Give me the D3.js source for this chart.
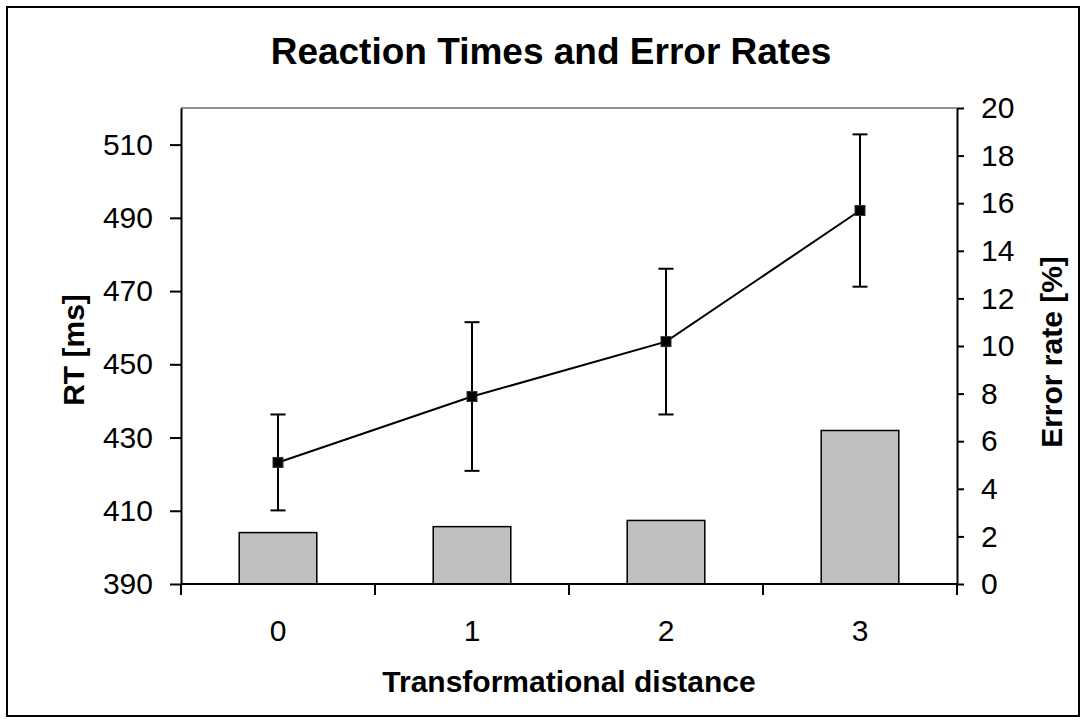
<!DOCTYPE html>
<html>
<head>
<meta charset="utf-8">
<script src="https://cdn.jsdelivr.net/npm/d3@7/dist/d3.min.js"></script>
<style>
  html, body { margin: 0; padding: 0; background: #ffffff; }
  svg { display: block; }
  text { font-family: "Liberation Sans", Arial, sans-serif; fill: #000; }
</style>
</head>
<body>
<svg id="chart" width="1087" height="723"></svg>
<script>
// Transformational distance conditions
const categories = ["0", "1", "2", "3"];
// Mean reaction time (ms) with error bar half-widths
const rtMean = [423.2, 441.2, 456.2, 492.0];
const rtErr = [13.1, 20.3, 19.9, 20.8];
// Error rate (%)
const errorRate = [2.16, 2.41, 2.67, 6.45];
// Axis tick values
const rtTicks = [390, 410, 430, 450, 470, 490, 510];
const errTicks = [0, 2, 4, 6, 8, 10, 12, 14, 16, 18, 20];

const svg = d3.select("#chart");
const W = 1087, H = 723;
const plot = { left: 181, right: 957, top: 108, bottom: 584 };

// outer frame
svg.append("rect")
  .attr("x", 7).attr("y", 7)
  .attr("width", W - 15).attr("height", H - 14)
  .attr("fill", "#fff").attr("stroke", "#000").attr("stroke-width", 2);

const x = d3.scaleBand().domain(categories).range([plot.left, plot.right]);
const yRT = d3.scaleLinear().domain([390, 520]).range([plot.bottom, plot.top]);
const yErr = d3.scaleLinear().domain([0, 20]).range([plot.bottom, plot.top]);

// top border of plot area
svg.append("line")
  .attr("x1", plot.left).attr("x2", plot.right)
  .attr("y1", plot.top).attr("y2", plot.top)
  .attr("stroke", "#909090").attr("stroke-width", 2);

// error-rate bars
const barW = x.bandwidth() * 0.4;
svg.append("g").selectAll("rect")
  .data(errorRate)
  .join("rect")
  .attr("x", (d, i) => x(categories[i]) + x.bandwidth() / 2 - barW / 2)
  .attr("y", d => yErr(d))
  .attr("width", barW)
  .attr("height", d => yErr(0) - yErr(d))
  .attr("fill", "#c0c0c0")
  .attr("stroke", "#000")
  .attr("stroke-width", 1.5);

// left axis (RT)
const gL = svg.append("g")
  .attr("transform", `translate(${plot.left},0)`)
  .call(d3.axisLeft(yRT).tickValues(rtTicks).tickSize(11).tickSizeOuter(0).tickPadding(17));
gL.select(".domain").attr("stroke-width", 2);
gL.selectAll(".tick line").attr("stroke-width", 2);
gL.selectAll("text").style("font-size", "30px").style("font-family", "'Liberation Sans', Arial, sans-serif");

// right axis (error rate)
const gR = svg.append("g")
  .attr("transform", `translate(${plot.right},0)`)
  .call(d3.axisRight(yErr).tickValues(errTicks).tickSize(7).tickSizeOuter(0).tickPadding(17));
gR.select(".domain").attr("stroke-width", 2);
gR.selectAll(".tick line").attr("stroke-width", 2);
gR.selectAll("text").style("font-size", "30px").style("font-family", "'Liberation Sans', Arial, sans-serif");

// bottom axis: category labels and boundary ticks
const gB = svg.append("g")
  .attr("transform", `translate(0,${plot.bottom})`)
  .call(d3.axisBottom(x).tickSize(0).tickPadding(36));
gB.select(".domain").remove();
gB.selectAll("text").style("font-size", "30px").style("font-family", "'Liberation Sans', Arial, sans-serif");
svg.append("line")
  .attr("x1", plot.left).attr("x2", plot.right)
  .attr("y1", plot.bottom).attr("y2", plot.bottom)
  .attr("stroke", "#000").attr("stroke-width", 2);
const bounds = categories.map(c => x(c)).concat([x.range()[1]]);
svg.append("g").selectAll("line")
  .data(bounds)
  .join("line")
  .attr("x1", d => d).attr("x2", d => d)
  .attr("y1", plot.bottom).attr("y2", plot.bottom + 11)
  .attr("stroke", "#000").attr("stroke-width", 2);

// RT line, error bars and markers
const cx = i => x(categories[i]) + x.bandwidth() / 2;
const line = d3.line().x((d, i) => cx(i)).y(d => yRT(d));
svg.append("path")
  .datum(rtMean)
  .attr("d", line)
  .attr("fill", "none").attr("stroke", "#000").attr("stroke-width", 2);

const eb = svg.append("g").selectAll("g")
  .data(rtMean)
  .join("g");
eb.append("line")
  .attr("x1", (d, i) => cx(i)).attr("x2", (d, i) => cx(i))
  .attr("y1", (d, i) => yRT(d + rtErr[i])).attr("y2", (d, i) => yRT(d - rtErr[i]))
  .attr("stroke", "#000").attr("stroke-width", 2);
[1, -1].forEach(s => {
  eb.append("line")
    .attr("x1", (d, i) => cx(i) - 7.5).attr("x2", (d, i) => cx(i) + 7.5)
    .attr("y1", (d, i) => yRT(d + s * rtErr[i])).attr("y2", (d, i) => yRT(d + s * rtErr[i]))
    .attr("stroke", "#000").attr("stroke-width", 2);
});
eb.append("rect")
  .attr("x", (d, i) => cx(i) - 5).attr("y", d => yRT(d) - 5)
  .attr("width", 10).attr("height", 10)
  .attr("fill", "#000").attr("stroke", "#333").attr("stroke-width", 1);

// titles
svg.append("text")
  .attr("x", 551).attr("y", 64)
  .attr("text-anchor", "middle")
  .style("font-size", "37px").style("font-weight", "bold")
  .text("Reaction Times and Error Rates");

svg.append("text")
  .attr("x", (plot.left + plot.right) / 2).attr("y", 692)
  .attr("text-anchor", "middle")
  .style("font-size", "30px").style("font-weight", "bold")
  .text("Transformational distance");

svg.append("text")
  .attr("transform", `translate(84,350) rotate(-90)`)
  .attr("text-anchor", "middle")
  .style("font-size", "30px").style("font-weight", "bold")
  .text("RT [ms]");

svg.append("text")
  .attr("transform", `translate(1062,352) rotate(-90)`)
  .attr("text-anchor", "middle")
  .style("font-size", "30px").style("font-weight", "bold")
  .text("Error rate [%]");
</script>
</body>
</html>
